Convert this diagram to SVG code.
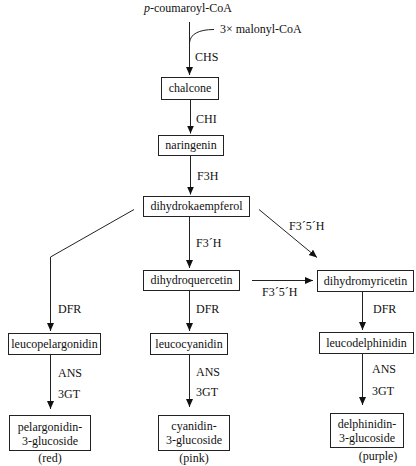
<svg xmlns="http://www.w3.org/2000/svg" width="416" height="466" viewBox="0 0 416 466" font-family="'Liberation Serif', 'Times New Roman', Times, serif">
<style>
text{font-family:'Liberation Serif','Times New Roman',Times,serif;font-size:12px;fill:#111}
.c{text-anchor:middle}
rect.n{fill:#fff;stroke:#222;stroke-width:1}
.e{fill:none;stroke:#222;stroke-width:1}
.a{marker-end:url(#ah)}
</style>
<defs>
<marker id="ah" markerUnits="userSpaceOnUse" markerWidth="8" markerHeight="8" refX="8" refY="3.5" orient="auto">
<path d="M0,0 L8,3.5 L0,7 z" fill="#111"/>
</marker>
</defs>
<rect x="0" y="0" width="416" height="466" fill="#fff"/>
<g id="connectors">
<path class="e a" d="M189.5,22 V75"/>
<path class="e" d="M214,29.5 C199,29.5 190,34 189.5,43"/>
<path class="e a" d="M190.5,99 V133.5"/>
<path class="e a" d="M190.5,155 V194.5"/>
<path class="e a" d="M134,209.5 L50.5,257 V331"/>
<path class="e a" d="M189.5,216 V268"/>
<path class="e a" d="M259,209.5 L317,257.5"/>
<path class="e a" d="M252,280.5 H313"/>
<path class="e a" d="M189.5,290 V331"/>
<path class="e a" d="M362.5,291 V330"/>
<path class="e a" d="M50.5,354 V409"/>
<path class="e a" d="M189.5,354 V407"/>
<path class="e a" d="M362.5,353 V405"/>
</g>
<g id="labels">
<text x="220" y="33">3× malonyl-CoA</text>
<text x="195" y="61">CHS</text>
<text x="196" y="123">CHI</text>
<text x="197" y="180">F3H</text>
<text x="196" y="247">F3´H</text>
<text x="289" y="230">F3´5´H</text>
<text x="262" y="296">F3´5´H</text>
<text x="58" y="313">DFR</text>
<text x="196" y="313">DFR</text>
<text x="373" y="313">DFR</text>
<text x="58" y="377">ANS</text>
<text x="58" y="398">3GT</text>
<text x="196" y="376">ANS</text>
<text x="196" y="396">3GT</text>
<text x="372" y="373">ANS</text>
<text x="372" y="395">3GT</text>
</g>
<g id="pcoumaroyl"><text class="c" x="188" y="12"><tspan font-style="italic">p</tspan>-coumaroyl-CoA</text></g>
<g id="chalcone"><rect class="n" x="161.5" y="77.5" width="57" height="22"/><text class="c" x="190" y="92">chalcone</text></g>
<g id="naringenin"><rect class="n" x="158.5" y="135.5" width="65" height="20"/><text class="c" x="191" y="149">naringenin</text></g>
<g id="dihydrokaempferol"><rect class="n" x="143.5" y="196.5" width="106" height="20"/><text class="c" x="196.5" y="210">dihydrokaempferol</text></g>
<g id="dihydroquercetin"><rect class="n" x="143.5" y="270.5" width="96" height="20"/><text class="c" x="191.5" y="284">dihydroquercetin</text></g>
<g id="dihydromyricetin"><rect class="n" x="317.5" y="270.5" width="96" height="21"/><text class="c" x="365.5" y="284.5">dihydromyricetin</text></g>
<g id="leucopelargonidin"><rect class="n" x="8.5" y="333.5" width="92" height="21"/><text class="c" x="54.5" y="347.5">leucopelargonidin</text></g>
<g id="leucocyanidin"><rect class="n" x="150.5" y="333.5" width="77" height="21"/><text class="c" x="189" y="347.5">leucocyanidin</text></g>
<g id="leucodelphinidin"><rect class="n" x="319.5" y="332.5" width="94" height="21"/><text class="c" x="366.5" y="346.5">leucodelphinidin</text></g>
<g id="pelargonidin"><rect class="n" x="9.5" y="415.5" width="81" height="35"/><text class="c" x="50" y="431">pelargonidin-</text><text class="c" x="50" y="445">3-glucoside</text><text class="c" x="50" y="462">(red)</text></g>
<g id="cyanidin"><rect class="n" x="158.5" y="415.5" width="71" height="35"/><text class="c" x="194" y="430">cyanidin-</text><text class="c" x="194" y="444">3-glucoside</text><text class="c" x="194" y="462">(pink)</text></g>
<g id="delphinidin"><rect class="n" x="330.5" y="413.5" width="73" height="34"/><text class="c" x="367" y="428">delphinidin-</text><text class="c" x="367" y="442">3-glucoside</text><text class="c" x="378" y="460">(purple)</text></g>
</svg>
